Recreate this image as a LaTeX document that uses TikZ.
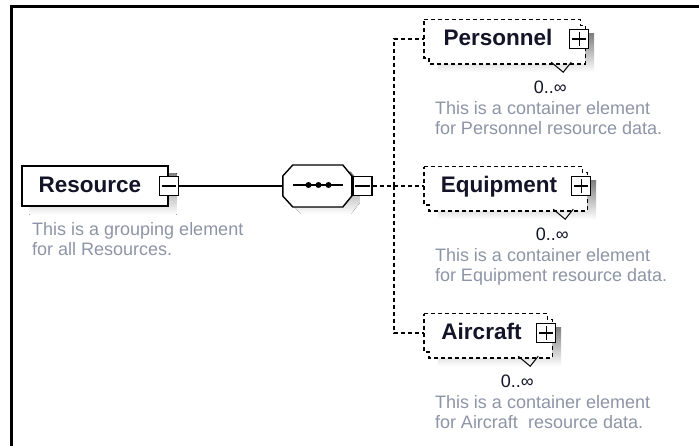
\documentclass[tikz,border=0pt]{standalone}
\usepackage{fontspec}
\setmainfont{Liberation Sans}
\usetikzlibrary{positioning,calc,backgrounds}

\definecolor{shade}{RGB}{192,192,192}
\definecolor{notegray}{RGB}{140,148,165}
\definecolor{namenavy}{RGB}{20,20,40}

\begin{document}
\begin{tikzpicture}[x=1pt,y=-1pt,
	every node/.style={inner sep=0pt},
	namefont/.style={font=\fontsize{22.5}{25}\selectfont\bfseries, text=namenavy, text height=15pt, text depth=1pt},
	elem/.style={namefont, draw, fill=white, line width=1.4pt, minimum height=40pt},
	child/.style={namefont, minimum height=38pt},
	expander/.style={draw, fill=white, line width=1.4pt, minimum size=19pt},
	note/.style={font=\fontsize{18}{20}\selectfont, text=notegray, align=left, anchor=north west},
	occurs/.style={font=\fontsize{18}{20}\selectfont, text=namenavy},
	link/.style={line width=1.4pt},
	optlink/.style={link, dash pattern=on 4pt off 3pt}]
	\useasboundingbox (0,0) rectangle (699,446);
	\draw[line width=2.4pt] (11.3,446) -- (11.3,6.6) -- (699,6.6);

	% root element
	\node[elem, minimum width=146pt] (res) at (95,186) {Resource\hspace*{10pt}};
	\node[expander] (res-box) at (res.east) {};
	\draw[link] ($(res-box.west)+(3,0)$) -- ($(res-box.east)+(-3,0)$);
	\node[note] (res-note) at (32,222) {This is a grouping element\\for all Resources.};

	% sequence compositor
	\node[minimum width=69pt, minimum height=42pt] (seq) at (317.5,186) {};
	\node[expander, right=0pt of seq] (seq-box) {};

	% child elements
	\node[child, minimum width=156pt] (pers) at (502,39) {Personnel\hspace*{8pt}};
	\node[child, minimum width=158pt] (equip) at (503,186) {Equipment\hspace*{8pt}};
	\node[child, minimum width=123pt] (air) at (485.5,333) {Aircraft\hspace*{8pt}};

	\begin{scope}[on background layer]
		\fill[shade] ($(res.north west)+(8,8)$) rectangle ($(res.south east)+(8,8)$);
		\fill[shade] ($(seq.west)+(8,-3)$) -- ++(10,-11) -- ++(50,0) -- ++(9,11) -- ++(0,20) -- ++(-9,11) -- ++(-50,0) -- ++(-10,-11) -- cycle;
	\end{scope}
	\draw[link, fill=white] ($(seq.west)+(0,-10)$) -- ++(10,-11) -- ++(50,0) -- ++(9,11) -- ++(0,20) -- ++(-9,11) -- ++(-50,0) -- ++(-10,-11) -- cycle;
	\draw[link] ($(seq.west)+(10,-1)$) -- ($(seq.east)+(-9,-1)$);
	\foreach \d in {-9,1,11}
		\fill ($(seq.center)+(\d,-1)$) circle (3);
	\node[expander, right=0pt of seq] (seq-box) {};
	\draw[link] ($(seq-box.west)+(3,0)$) -- ($(seq-box.east)+(-3,0)$);

	\draw[link] (res-box) -- (seq);
	\coordinate (fork) at (394,186);
	\draw[optlink] (seq-box) -- (fork);

	\foreach \k in {pers,equip,air}{
		\draw[optlink] (fork) |- (\k);
		\begin{scope}[on background layer]
			\fill[shade] ($(\k.north west)+(14,14)$) rectangle ($(\k.south east)+(14,14)$);
			\fill[white] (\k.north west) -- (\k.north east) -- ++(0,6) -- ++(5,0) |- ($(\k.south west)+(5,6)$) -- ++(0,-6) -- (\k.south west) -- cycle;
		\end{scope}
		\draw[optlink] (\k.north west) -- (\k.north east) -- ++(0,6) -- ++(5,0) |- ($(\k.south west)+(5,6)$) -- ++(0,-6) -- (\k.south west) -- cycle;
		\draw[line width=1pt] ($(\k.south east)+(-29,4)$) -- ++(12,10) -- ++(8,-10);
		\node[expander] (\k-box) at ($(\k.east)+(-1,0)$) {};
		\draw[link] ($(\k-box.west)+(3,0)$) -- ($(\k-box.east)+(-3,0)$)
			($(\k-box.north)+(0,3)$) -- ($(\k-box.south)+(0,-3)$);
		\node[occurs] (\k-occ) at ($(\k.south east)+(-30,29)$) {0..∞};
	}

	\node[note] (pers-note) at ($(pers.south west)+(11,43)$) {This is a container element\\for Personnel resource data.};
	\node[note] (equip-note) at ($(equip.south west)+(11,43)$) {This is a container element\\for Equipment resource data.};
	\node[note] (air-note) at ($(air.south west)+(11,43)$) {This is a container element\\for Aircraft\ \ resource data.};
\end{tikzpicture}
\end{document}
